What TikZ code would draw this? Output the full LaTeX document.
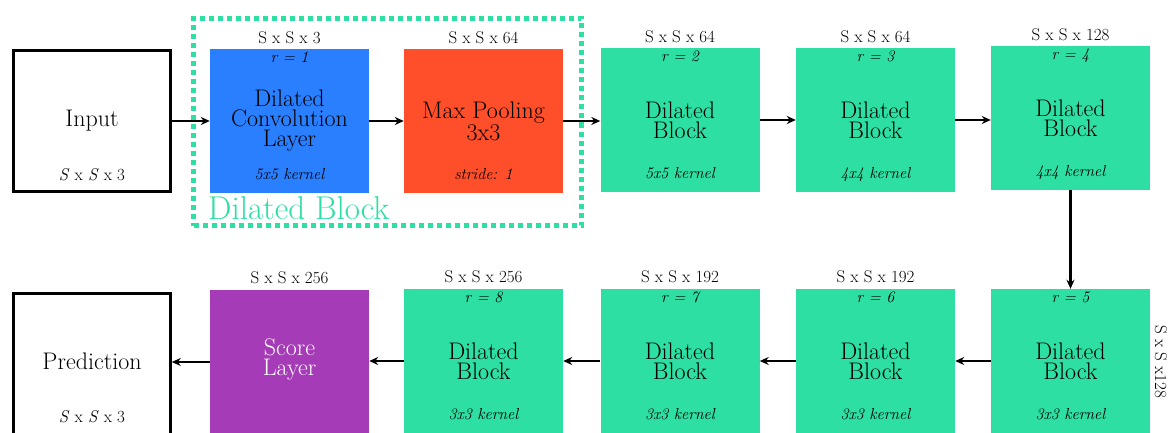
\documentclass[tikz,border=0pt]{standalone}
\usetikzlibrary{arrows.meta}

\definecolor{dbgreen}{HTML}{2EDFA3}
\definecolor{convblue}{HTML}{2A7FFF}
\definecolor{poolred}{HTML}{FF4F2A}
\definecolor{scorepurple}{HTML}{A63BB7}

\tikzset{
  layer/.style={rectangle, minimum width=159pt, minimum height=144pt,
    inner sep=0pt},
  iobox/.style={layer, draw=black, line width=2.6pt, fill=white,
    minimum width=157pt, minimum height=141pt},
  dblock/.style={layer, fill=dbgreen},
  title/.style={inner sep=0pt, align=center, text=black,
    font=\fontsize{24}{20}\selectfont},
  iotext/.style={inner sep=0pt, anchor=base, font=\fontsize{24}{24}\selectfont},
  dims/.style={inner sep=0pt, anchor=base, font=\fontsize{17}{17}\selectfont},
  note/.style={inner sep=0pt, anchor=base, font=\itshape\fontsize{16}{16}\selectfont},
  flow/.style={draw=black, line width=2.6pt,
    -{Stealth[length=9pt,width=8pt]}},
  frame/.style={rectangle, draw=dbgreen, line width=5pt,
    dash pattern=on 5pt off 4pt, inner sep=0pt,
    minimum width=388pt, minimum height=207pt},
}

\begin{document}
\begin{tikzpicture}[x=1pt,y=-1pt]
\useasboundingbox (0,0) rectangle (1173,433);
\clip (0,0) rectangle (1173,433);

% enclosing frame of the dilated block
\node[frame] (blockframe) at (387.5,122) {};
\node[anchor=base west, inner sep=0pt, text=dbgreen,
      font=\fontsize{33}{33}\selectfont] (blocktitle) at (208,219) {Dilated Block};

% top row: boxes
\node[iobox] (inp) at (92,121) {};
\node[layer, fill=convblue] (conv) at (289.5,121) {};
\node[layer, fill=poolred] (pool) at (483.5,121) {};
\node[dblock] (g2) at (680,120) {};
\node[dblock] (g3) at (875.5,120) {};
\node[dblock] (g4) at (1070.5,118) {};

% bottom row: boxes
\node[iobox] (pred) at (92,364) {};
\node[layer, fill=scorepurple] (score) at (289.5,362) {};
\node[dblock] (b8) at (483.5,361) {};
\node[dblock] (b7) at (680,361) {};
\node[dblock] (b6) at (875.5,361) {};
\node[dblock] (b5) at (1070.5,361) {};

% layer names
\node[iotext] (inptext) at (92,126.5) {Input};
\node[title] (convtext) at (conv.center) {Dilated\\Convolution\\Layer};
\node[title] (pooltext) at (pool.center) {Max Pooling\\3x3};
\node[title] (g2text) at (g2.center) {Dilated\\Block};
\node[title] (g3text) at (g3.center) {Dilated\\Block};
\node[title] (g4text) at (g4.center) {Dilated\\Block};
\node[iotext] (predtext) at (92,369) {Prediction};
\node[title, text=white] (scoretext) at ([yshift=2pt]score.center) {Score\\Layer};
\node[title] (b8text) at (b8.center) {Dilated\\Block};
\node[title] (b7text) at (b7.center) {Dilated\\Block};
\node[title] (b6text) at (b6.center) {Dilated\\Block};
\node[title] (b5text) at (b5.center) {Dilated\\Block};

% sizes of the input and the prediction
\node[dims] (inpdim) at (92,180) {\textit{S} x \textit{S} x 3};
\node[dims] (preddim) at (92,422.5) {\textit{S} x \textit{S} x 3};

% feature sizes above the layers
\node[dims] (dconv) at ([yshift=5.5pt]conv.north) {S x S x 3};
\node[dims] (dpool) at ([yshift=5.5pt]pool.north) {S x S x 64};
\node[dims] (dg2) at ([yshift=5.5pt]g2.north) {S x S x 64};
\node[dims] (dg3) at ([yshift=5.5pt]g3.north) {S x S x 64};
\node[dims] (dg4) at ([yshift=5.5pt]g4.north) {S x S x 128};
\node[dims] (dscore) at ([yshift=6.5pt]score.north) {S x S x 256};
\node[dims] (db8) at ([yshift=6.5pt]b8.north) {S x S x 256};
\node[dims] (db7) at ([yshift=6.5pt]b7.north) {S x S x 192};
\node[dims] (db6) at ([yshift=6.5pt]b6.north) {S x S x 192};
\node[dims, anchor=center, rotate=-90] (db5) at (1161,362) {S x S x128};

% dilation rates
\node[note] (rconv) at ([yshift=-13.5pt]conv.north) {r = 1};
\node[note] (rg2) at ([yshift=-13.5pt]g2.north) {r = 2};
\node[note] (rg3) at ([yshift=-13.5pt]g3.north) {r = 3};
\node[note] (rg4) at ([yshift=-13.5pt]g4.north) {r = 4};
\node[note] (rb5) at ([yshift=-13.5pt]b5.north) {r = 5};
\node[note] (rb6) at ([yshift=-13.5pt]b6.north) {r = 6};
\node[note] (rb7) at ([yshift=-13.5pt]b7.north) {r = 7};
\node[note] (rb8) at ([yshift=-13.5pt]b8.north) {r = 8};

% kernels and stride
\node[note] (kconv) at ([yshift=14pt]conv.south) {5x5 kernel};
\node[note] (kpool) at ([yshift=14pt]pool.south) {stride: 1};
\node[note] (kg2) at ([yshift=14pt]g2.south) {5x5 kernel};
\node[note] (kg3) at ([yshift=14pt]g3.south) {4x4 kernel};
\node[note] (kg4) at ([yshift=14pt]g4.south) {4x4 kernel};
\node[note] (kb5) at ([yshift=14pt]b5.south) {3x3 kernel};
\node[note] (kb6) at ([yshift=14pt]b6.south) {3x3 kernel};
\node[note] (kb7) at ([yshift=14pt]b7.south) {3x3 kernel};
\node[note] (kb8) at ([yshift=14pt]b8.south) {3x3 kernel};

% connections
\draw[flow] (inp.east) -- (conv.west);
\draw[flow] (conv) -- (pool);
\draw[flow] (pool.east) -- (pool.east -| g2.west);
\draw[flow] (g2) -- (g3);
\draw[flow] (g3.east) -- (g3.east -| g4.west);
\draw[flow] (g4) -- (b5);
\draw[flow] (b5) -- (b6);
\draw[flow] (b6) -- (b7);
\draw[flow] (b7) -- (b8);
\draw[flow] (b8.west) -- (b8.west -| score.east);
\draw[flow] (score.west) -- (score.west -| pred.east);
\end{tikzpicture}
\end{document}
